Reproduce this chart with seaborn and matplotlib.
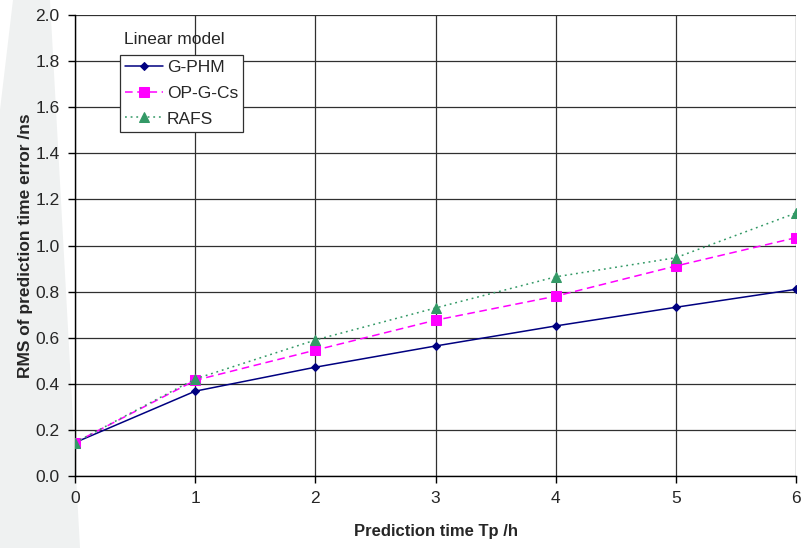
import matplotlib
matplotlib.use("Agg")
import matplotlib.pyplot as plt
import seaborn as sns
import pandas as pd
from matplotlib.patches import Polygon

# data
tp_hours = [0, 1, 2, 3, 4, 5, 6]
g_phm = [0.145, 0.368, 0.472, 0.564, 0.651, 0.732, 0.810]
op_g_cs = [0.145, 0.415, 0.546, 0.676, 0.780, 0.911, 1.034]
rafs = [0.145, 0.421, 0.590, 0.729, 0.864, 0.947, 1.141]
series_names = ["G-PHM", "OP-G-Cs", "RAFS"]

df = pd.DataFrame({
    "tp": tp_hours * 3,
    "rms": g_phm + op_g_cs + rafs,
    "model": [n for n in series_names for _ in tp_hours],
})

sns.set_style("white")
plt.rcParams["font.family"] = ["Liberation Sans", "DejaVu Sans"]

fig = plt.figure(figsize=(8.09, 5.48), dpi=100)

# faint diagonal watermark band on the left
band = Polygon([(13 / 809, 1.0), (50 / 809, 1.0), (80 / 809, 0.0), (0.0, 0.0), (0.0, 1 - 110 / 548)],
               closed=True, transform=fig.transFigure, facecolor="#eff1f1", edgecolor="none", zorder=-5)
fig.patches.append(band)

ax = fig.add_axes([75 / 809, 1 - 476 / 548, 721 / 809, 461 / 548])
ax.patch.set_alpha(0)
ax.set_zorder(1)

palette = {"G-PHM": "#000080", "OP-G-Cs": "#ff00ff", "RAFS": "#339966"}
markers = {"G-PHM": "D", "OP-G-Cs": "s", "RAFS": "^"}
dashes = {"G-PHM": "", "OP-G-Cs": (5, 3), "RAFS": (1.2, 2.5)}
sizes = {"G-PHM": 4.5, "OP-G-Cs": 6.5, "RAFS": 6.5}

for name in series_names:
    sub = df[df["model"] == name]
    sns.lineplot(data=sub, x="tp", y="rms", ax=ax, color=palette[name],
                 marker=markers[name], markersize=sizes[name], markeredgecolor=palette[name],
                 dashes=dashes[name], linewidth=1.1, label=name, zorder=3)

ax.set_xlim(0, 6)
ax.set_ylim(0, 2.0)
ax.set_xticks(tp_hours)
ax.set_yticks([i * 0.2 for i in range(11)])
ax.set_yticklabels([f"{i * 0.2:.1f}" for i in range(11)])
ax.grid(True, color="#303030", linewidth=0.9)
ax.set_axisbelow(True)
for s in ["top", "right"]:
    ax.spines[s].set_visible(False)
for s in ["left", "bottom"]:
    ax.spines[s].set_color("black")
    ax.spines[s].set_linewidth(1.0)
ax.tick_params(axis="both", which="both", direction="out", length=5, width=1,
               color="black", labelsize=12.5, pad=6, left=True, bottom=True)

ax.set_xlabel("Prediction time Tp /h", fontsize=12, fontweight="bold", labelpad=13)
ax.set_ylabel("RMS of prediction time error /ns", fontsize=12.5, fontweight="bold", labelpad=2)

# legend box with its title sitting above the frame
leg = ax.legend(loc="upper left", bbox_to_anchor=(45 / 721, 1 - 40 / 461), frameon=True,
                fancybox=False, framealpha=1, edgecolor="#303030", fontsize=12.5,
                handlelength=2.2, handletextpad=0.2, borderpad=0.3, labelspacing=0.6,
                borderaxespad=0)
leg.get_frame().set_linewidth(0.9)
ax.text(124 / 809, 1 - 40 / 548, "Linear model", transform=fig.transFigure,
        fontsize=12.5, va="center", ha="left")

fig.savefig("out.png", dpi=100)
